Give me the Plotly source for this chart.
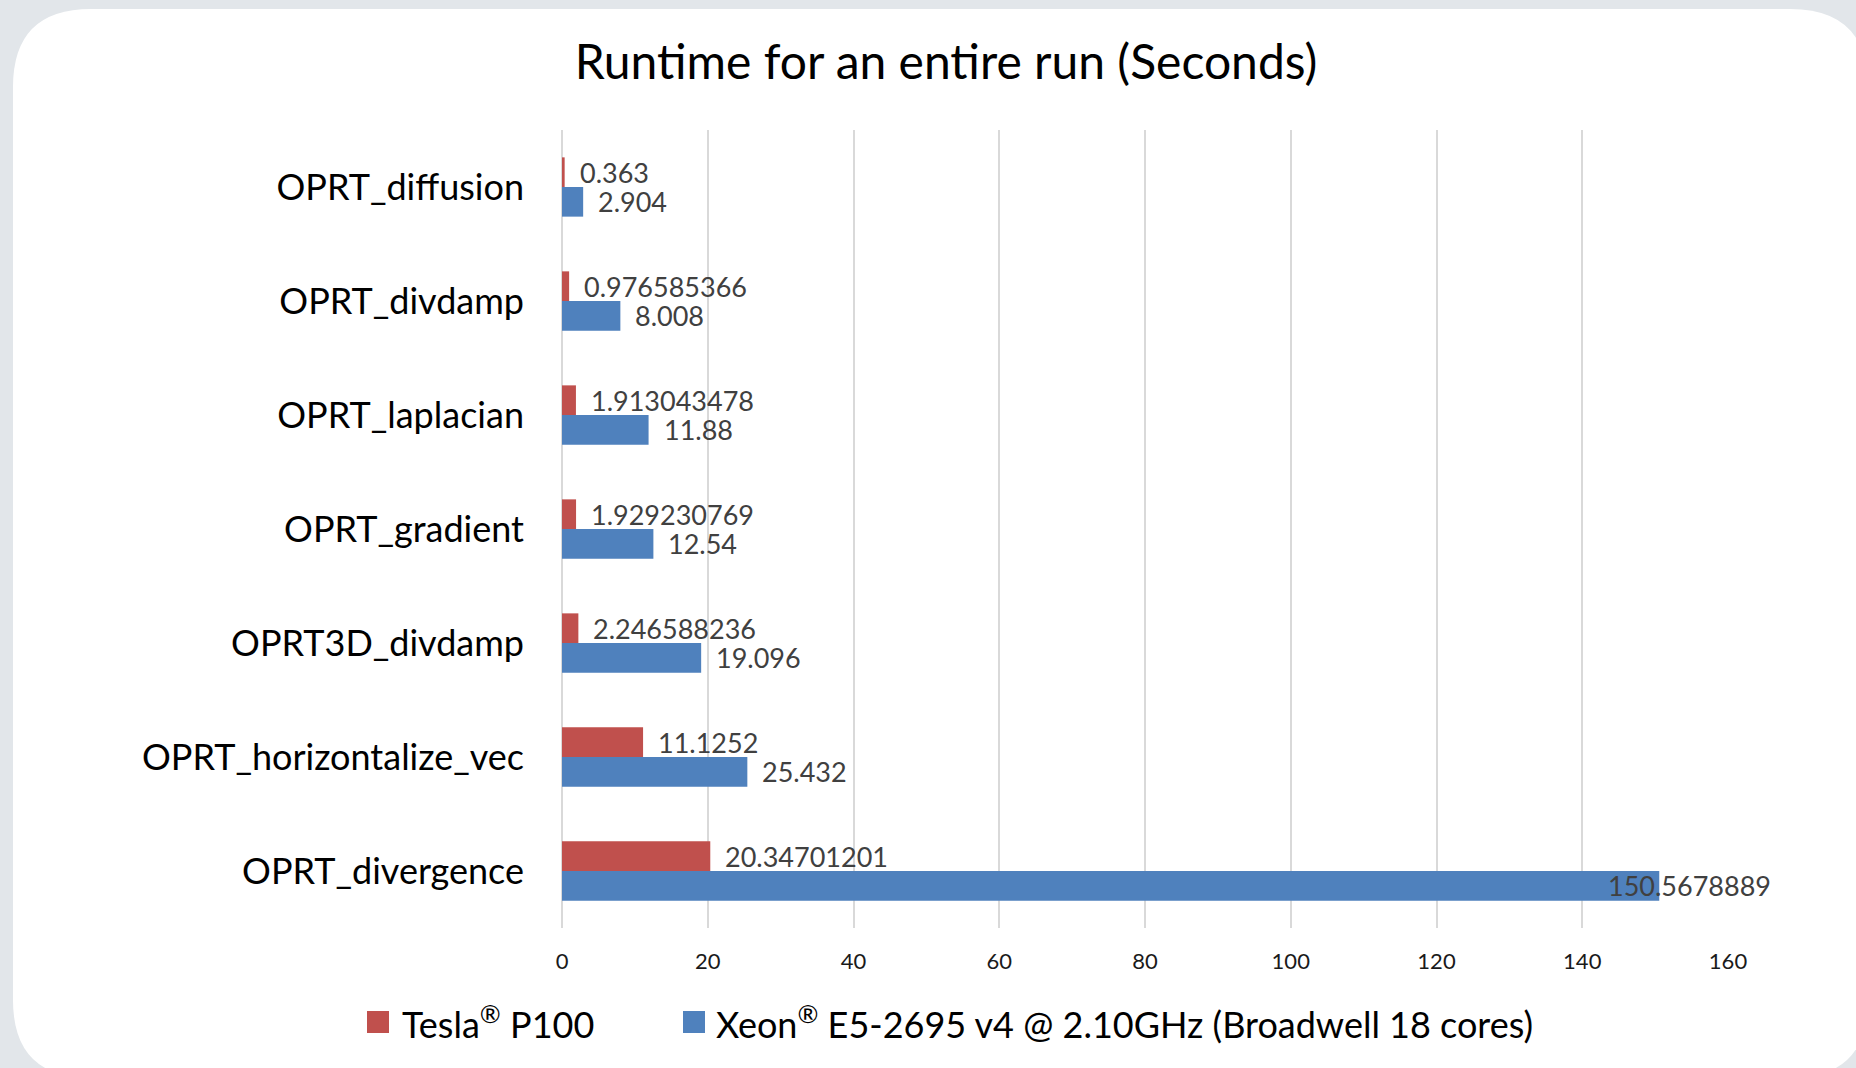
import plotly.graph_objects as go

# Kernels, listed top to bottom
operators = [
    "OPRT_diffusion",
    "OPRT_divdamp",
    "OPRT_laplacian",
    "OPRT_gradient",
    "OPRT3D_divdamp",
    "OPRT_horizontalize_vec",
    "OPRT_divergence",
]

# Runtime in seconds for an entire run
tesla_p100 = [0.363, 0.976585366, 1.913043478, 1.929230769, 2.246588236, 11.1252, 20.34701201]
xeon_e5 = [2.904, 8.008, 11.88, 12.54, 19.096, 25.432, 150.5678889]

series_names = ["Tesla<sup>®</sup> P100",
                "Xeon<sup>®</sup> E5-2695 v4 @ 2.10GHz (Broadwell 18 cores)"]
series_colors = ["#c0504d", "#4f81bd"]

x_ticks = [0, 20, 40, 60, 80, 100, 120, 140, 160]

W, H = 1856, 1068
ML, MR, MT, MB = 562, 128, 130, 140
PW, PH = W - ML - MR, H - MT - MB
FONT = "Lato, 'Open Sans', sans-serif"


def px_x(px):
    return (px - ML) / PW


def px_y(py):
    return (H - MB - py) / PH


def rounded_rect(x0, y0, x1, y1, r):
    pts = [
        f"M {px_x(x0 + r)} {px_y(y0)}",
        f"L {px_x(x1 - r)} {px_y(y0)}",
        f"Q {px_x(x1)} {px_y(y0)} {px_x(x1)} {px_y(y0 + r)}",
        f"L {px_x(x1)} {px_y(y1 - r)}",
        f"Q {px_x(x1)} {px_y(y1)} {px_x(x1 - r)} {px_y(y1)}",
        f"L {px_x(x0 + r)} {px_y(y1)}",
        f"Q {px_x(x0)} {px_y(y1)} {px_x(x0)} {px_y(y1 - r)}",
        f"L {px_x(x0)} {px_y(y0 + r)}",
        f"Q {px_x(x0)} {px_y(y0)} {px_x(x0 + r)} {px_y(y0)}",
        "Z",
    ]
    return " ".join(pts)


fig = go.Figure()
for name, vals, col in zip(series_names, [tesla_p100, xeon_e5], series_colors):
    fig.add_trace(go.Bar(
        y=operators, x=vals, orientation="h", name=name,
        marker=dict(color=col, line=dict(width=0)),
        showlegend=False, hoverinfo="x+y",
    ))

# value labels beside each bar
half_bar = PH / len(operators) * 0.52 / 4
label_limit_px = 1773
annotations = []
for vals, shift in zip([tesla_p100, xeon_e5], [half_bar, -half_bar]):
    for cat, v in zip(operators, vals):
        txt = str(v)
        end_px = ML + v / 160 * PW
        est_w = 15 * len(txt)
        common = dict(text=txt, showarrow=False, yref="y", y=cat, yshift=shift,
                      yanchor="middle",
                      font=dict(family=FONT, size=27, color="#404040"))
        if end_px + 15 + est_w > label_limit_px:
            annotations.append(dict(xref="paper", x=px_x(label_limit_px),
                                    xanchor="right", **common))
        else:
            annotations.append(dict(xref="x", x=v, xanchor="left", xshift=13,
                                    **common))

# legend drawn as swatches + text
legend_items = [(367, 400), (683, 714)]
shapes = [
    dict(type="path", path=rounded_rect(13, 9, 1868, 1078, 78),
         xref="paper", yref="paper", fillcolor="white",
         line=dict(width=0), layer="below"),
]
for (sx, tx), name, col in zip(legend_items, series_names, series_colors):
    shapes.append(dict(type="rect", xref="paper", yref="paper",
                       x0=px_x(sx), x1=px_x(sx + 22),
                       y0=px_y(1011), y1=px_y(1033),
                       fillcolor=col, line=dict(width=0)))
    annotations.append(dict(text=name, showarrow=False, xref="paper", yref="paper",
                            x=px_x(tx), y=px_y(1022), xanchor="left", yanchor="middle",
                            font=dict(family=FONT, size=36, color="#000000")))

fig.update_layout(
    width=W, height=H, autosize=False,
    margin=dict(l=ML, r=MR, t=MT, b=MB, pad=0),
    paper_bgcolor="#e2e6ea", plot_bgcolor="rgba(0,0,0,0)",
    barmode="group", bargap=0.48, bargroupgap=0,
    title=dict(text="Runtime for an entire run (Seconds)",
               x=946 / W, xref="container", xanchor="center",
               y=1 - 62 / H, yref="container", yanchor="middle",
               font=dict(family=FONT, size=48, color="#000000")),
    xaxis=dict(range=[0, 160], tickvals=x_ticks, ticktext=[str(t) for t in x_ticks],
               showgrid=True, gridcolor="#d9d9d9", gridwidth=2,
               zeroline=True, zerolinecolor="#d9d9d9", zerolinewidth=2,
               showline=False, ticks="", ticklabelstandoff=18,
               tickfont=dict(family=FONT, size=22, color="#1a1a1a"), fixedrange=True),
    yaxis=dict(type="category", categoryorder="array", categoryarray=operators,
               autorange="reversed", showgrid=False, zeroline=False, showline=False,
               ticks="", ticklabelstandoff=37,
               tickfont=dict(family=FONT, size=36, color="#000000"), fixedrange=True),
    shapes=shapes,
    annotations=annotations,
    showlegend=False,
)

fig.write_html("out.html")
